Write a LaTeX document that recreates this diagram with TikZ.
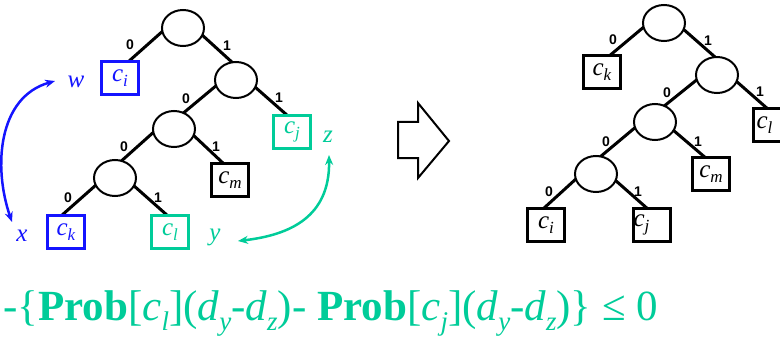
\documentclass[tikz,border=0pt]{standalone}
\usepackage{fontspec}
\setmainfont{Liberation Serif}
\newfontfamily\bitfont{Liberation Sans}
\usetikzlibrary{shapes.geometric,arrows.meta,calc}
\definecolor{codeblue}{RGB}{20,20,255}
\definecolor{codeteal}{RGB}{0,204,153}
% italic symbol with a lowered italic subscript
\newcommand\lsub[2]{\textit{#1}\raisebox{-0.2em}{\fontsize{17}{17}\selectfont\textit{#2}}}
\newcommand\bsub[2]{\textit{#1}\raisebox{-0.25em}{\fontsize{27}{27}\selectfont\textit{#2}}}
\pgfdeclarelayer{edges}
\pgfsetlayers{edges,main}
\begin{document}
\begin{tikzpicture}[x=1pt,y=-1pt,
  inner/.style={ellipse,draw,line width=2pt,fill=white,minimum width=42pt,minimum height=36pt,inner sep=0pt},
  leaf/.style={rectangle,draw,line width=2.2pt,fill=white,minimum width=37pt,minimum height=33pt,inner sep=0pt,font=\fontsize{25}{25}\selectfont},
  branch/.style={line width=3pt},
  bit/.style={font=\bitfont\bfseries\fontsize{14}{14}\selectfont,inner sep=0pt},
  var/.style={font=\itshape\fontsize{25}{25}\selectfont,inner sep=0pt},
  swap/.style={line width=2.5pt,{Stealth[length=10pt,width=8pt]}-{Stealth[length=10pt,width=8pt]}},
]
\useasboundingbox (0,0) rectangle (780,337);

% ---------- tree before the exchange ----------
\node[inner] (r)  at (183,28) {};
\node[inner] (n2) at (236,80) {};
\node[inner] (n3) at (174,129) {};
\node[inner] (n4) at (115,178) {};
\node[leaf,draw=codeblue,text=codeblue] (ci) at (120,78) {\lsub{c}{i}};
\node[leaf,draw=codeteal,text=codeteal] (cj) at (292,132) {\lsub{c}{j}};
\node[leaf] (cm) at (230,180) {\lsub{c}{m}};
\node[leaf,draw=codeblue,text=codeblue] (ck) at (66,232) {\lsub{c}{k}};
\node[leaf,draw=codeteal,text=codeteal] (cl) at (170,232) {\lsub{c}{l}};

\begin{pgfonlayer}{edges}
\draw[branch] ($(r)+(-19,2)$) -- ($(ci)+(8,-16)$);
\draw[branch] ($(r)+(18,6)$) -- ($(n2)+(-2,-16)$);
\draw[branch] ($(n2)+(19,7)$) -- ($(cj)+(-4,-16)$);
\draw[branch] ($(n2)+(-19,5)$) -- ($(n3)+(7,-14)$);
\draw[branch] ($(n3)+(17,4)$) -- ($(cm)+(-6,-16)$);
\draw[branch] ($(n3)+(-18,1)$) -- ($(n4)+(3,-14)$);
\draw[branch] ($(n4)+(-19,7)$) -- ($(ck)+(-5,-16)$);
\draw[branch] ($(n4)+(18,7)$) -- ($(cl)+(-2,-16)$);
\end{pgfonlayer}

\node[bit] (b1) at (130,45) {0};
\node[bit] (b2) at (227,46) {1};
\node[bit] (b3) at (279,98) {1};
\node[bit] (b4) at (186,99) {0};
\node[bit] (b5) at (216,147) {1};
\node[bit] (b6) at (124,147) {0};
\node[bit] (b7) at (68,198) {0};
\node[bit] (b8) at (158,198) {1};

% depth labels and the exchanged pairs
\node[var,text=codeblue] (w) at (76,82) {w};
\node[var,text=codeblue] (x) at (22,236) {x};
\node[var,text=codeteal] (y) at (215,237) {y};
\node[var,text=codeteal] (z) at (328,137) {z};
\coordinate (xt) at ($(x)+(-10,-14)$);
\coordinate (wt) at ($(w)+(-21,-1)$);
\coordinate (zt) at ($(z)+(1,18)$);
\coordinate (yt) at ($(y)+(23,4)$);
\draw[swap,draw=codeblue] (xt) .. controls ($(xt)+(-19,-55)$) and ($(wt)+(-57,16)$) .. (wt);
\draw[swap,draw=codeteal] (zt) .. controls ($(zt)+(1,62)$) and ($(yt)+(52,-6)$) .. (yt);

% ---------- block arrow ----------
\draw[line width=2pt,line join=miter] (398,122) -- (418,122) -- (418,103) -- (449,141)
  -- (418,178) -- (418,158) -- (398,158) -- cycle;

% ---------- tree after the exchange ----------
\node[inner] (R)  at (664,23) {};
\node[inner] (N2) at (717,75) {};
\node[inner] (N3) at (655,122) {};
\node[inner] (N4) at (596,174) {};
\node[leaf] (Ck) at (602,72) {\lsub{c}{k}};
\node[leaf] (Cl) at (772,125) {\makebox[37pt][l]{\hspace*{3pt}\lsub{c}{l}}};
\node[leaf] (Cm) at (711,174) {\lsub{c}{m}};
\node[leaf] (Ci) at (546,225) {\lsub{c}{i}};
\node[leaf] (Cj) at (652,225) {\makebox[37pt][l]{\lsub{c}{j}}};

\begin{pgfonlayer}{edges}
\draw[branch] ($(R)+(-19,3)$) -- ($(Ck)+(6,-15)$);
\draw[branch] ($(R)+(18,5)$) -- ($(N2)+(-2,-18)$);
\draw[branch] ($(N2)+(-18,3)$) -- ($(N3)+(8,-15)$);
\draw[branch] ($(N2)+(19,6)$) -- ($(Cl)+(-3,-15)$);
\draw[branch] ($(N3)+(-18,4)$) -- ($(N4)+(4,-17)$);
\draw[branch] ($(N3)+(18,8)$) -- ($(Cm)+(-4,-15)$);
\draw[branch] ($(N4)+(-19,4)$) -- ($(Ci)+(-3,-16)$);
\draw[branch] ($(N4)+(19,6)$) -- ($(Cj)+(-3,-15)$);
\end{pgfonlayer}

\node[bit] (B1) at (613,40) {0};
\node[bit] (B2) at (708,41) {1};
\node[bit] (B3) at (667,93) {0};
\node[bit] (B4) at (760,92) {1};
\node[bit] (B5) at (606,142) {0};
\node[bit] (B6) at (698,142) {1};
\node[bit] (B7) at (549,192) {0};
\node[bit] (B8) at (638,192) {1};

% ---------- cost difference ----------
\node[anchor=base west,inner sep=0pt,text=codeteal,font=\fontsize{43}{43}\selectfont] (eq) at (3,320)
  {-\{\textbf{Prob}[\bsub{c}{l}](\bsub{d}{y}-\bsub{d}{z})- \textbf{Prob}[\bsub{c}{j}](\bsub{d}{y}-\bsub{d}{z})\} ≤ 0};
\end{tikzpicture}
\end{document}
